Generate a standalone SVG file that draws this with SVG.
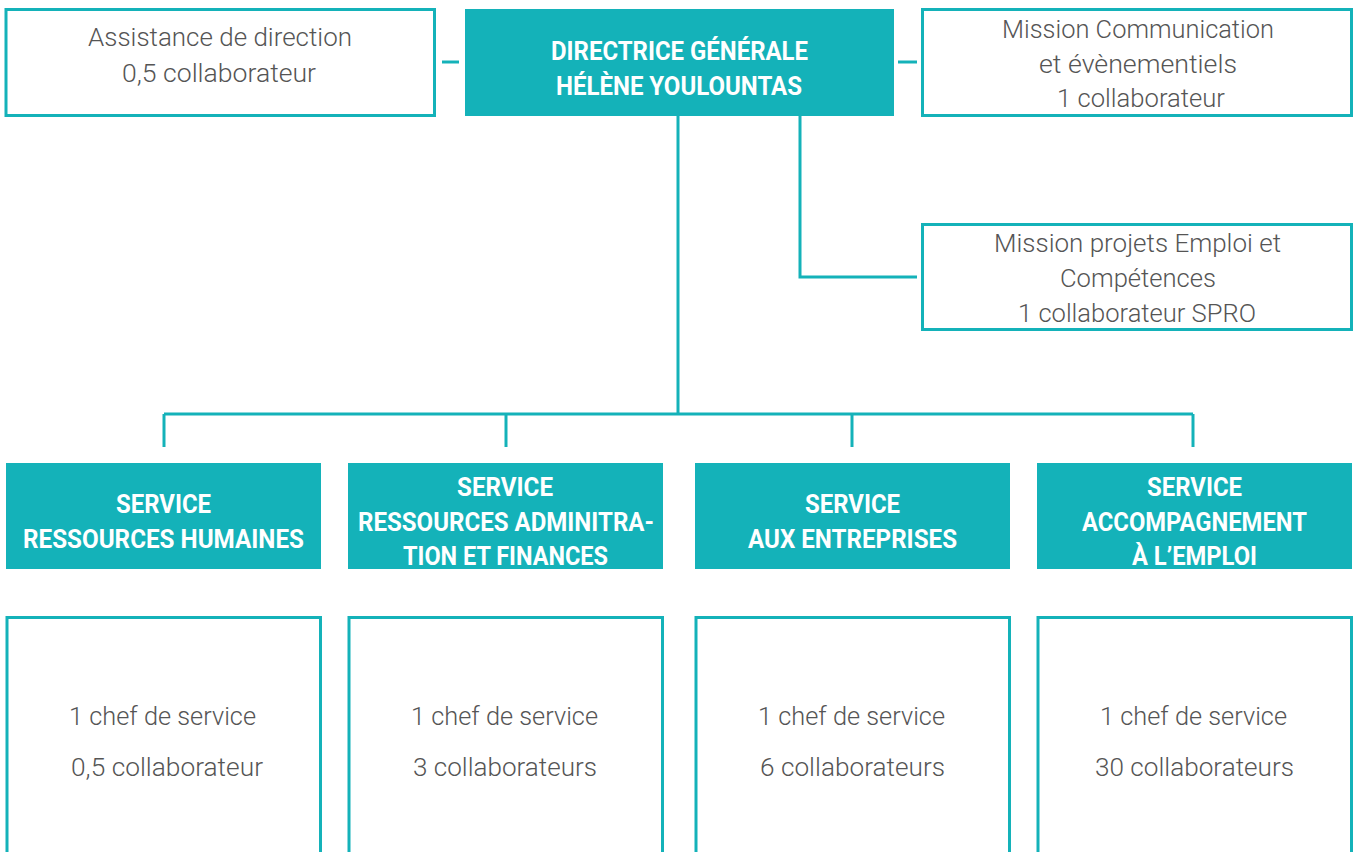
<svg xmlns="http://www.w3.org/2000/svg" width="1356" height="852" viewBox="0 0 1356 852">
<style>
.box{fill:#fff;stroke:#14b2b9;stroke-width:3}
.fill{fill:#14b2b9}
.lt{font-family:Roboto,"Liberation Sans",sans-serif;font-weight:300;font-size:26.5px;fill:#555;text-anchor:middle}
.bd{font-family:Roboto,"Liberation Sans",sans-serif;font-weight:700;font-size:25px;fill:#fff;text-anchor:middle}
.ln{fill:none;stroke:#14b2b9;stroke-width:3}
</style>
<rect width="1356" height="852" fill="#fff"/>
<g id="connectors">
<line class="ln" x1="442" y1="62" x2="459" y2="62"/>
<line class="ln" x1="898" y1="62" x2="917" y2="62"/>
<polyline class="ln" points="800,116 800,277 917,277"/>
<line class="ln" x1="678" y1="116" x2="678" y2="414"/>
<line class="ln" x1="164" y1="414" x2="1193" y2="414"/>
<line class="ln" x1="164" y1="414" x2="164" y2="447"/>
<line class="ln" x1="506" y1="414" x2="506" y2="447"/>
<line class="ln" x1="852" y1="414" x2="852" y2="447"/>
<line class="ln" x1="1193" y1="414" x2="1193" y2="447"/>
</g>
<g id="assistance">
<rect class="box" x="6" y="9.5" width="428.5" height="106"/>
<text class="lt" x="220" y="46" textLength="264" lengthAdjust="spacingAndGlyphs">Assistance de direction</text>
<text class="lt" x="219" y="82" textLength="194" lengthAdjust="spacingAndGlyphs">0,5 collaborateur</text>
</g>
<g id="directrice">
<rect class="fill" x="465" y="9" width="429" height="107"/>
<text class="bd" x="679.5" y="60" textLength="257" lengthAdjust="spacingAndGlyphs">DIRECTRICE GÉNÉRALE</text>
<text class="bd" x="679" y="95" textLength="246" lengthAdjust="spacingAndGlyphs">HÉLÈNE YOULOUNTAS</text>
</g>
<g id="communication">
<rect class="box" x="922.5" y="9.5" width="429" height="106"/>
<text class="lt" x="1138" y="38" textLength="272" lengthAdjust="spacingAndGlyphs">Mission Communication</text>
<text class="lt" x="1138" y="73" textLength="198" lengthAdjust="spacingAndGlyphs">et évènementiels</text>
<text class="lt" x="1141" y="107" textLength="168" lengthAdjust="spacingAndGlyphs">1 collaborateur</text>
</g>
<g id="projets">
<rect class="box" x="922.5" y="224.5" width="429" height="105"/>
<text class="lt" x="1137.5" y="252" textLength="287" lengthAdjust="spacingAndGlyphs">Mission projets Emploi et</text>
<text class="lt" x="1138" y="287" textLength="156" lengthAdjust="spacingAndGlyphs">Compétences</text>
<text class="lt" x="1137" y="322" textLength="238" lengthAdjust="spacingAndGlyphs">1 collaborateur SPRO</text>
</g>
<g id="service-rh">
<rect class="fill" x="6" y="463" width="315" height="106"/>
<text class="bd" x="163.5" y="513" textLength="95" lengthAdjust="spacingAndGlyphs">SERVICE</text>
<text class="bd" x="163.5" y="548" textLength="281" lengthAdjust="spacingAndGlyphs">RESSOURCES HUMAINES</text>
</g>
<g id="service-raf">
<rect class="fill" x="348" y="463" width="315" height="106"/>
<text class="bd" x="505" y="496" textLength="96" lengthAdjust="spacingAndGlyphs">SERVICE</text>
<text class="bd" x="506" y="531" textLength="296" lengthAdjust="spacingAndGlyphs">RESSOURCES ADMINITRA-</text>
<text class="bd" x="505.5" y="565" textLength="205" lengthAdjust="spacingAndGlyphs">TION ET FINANCES</text>
</g>
<g id="service-entreprises">
<rect class="fill" x="695" y="463" width="315" height="106"/>
<text class="bd" x="852.5" y="513" textLength="95" lengthAdjust="spacingAndGlyphs">SERVICE</text>
<text class="bd" x="852.5" y="548" textLength="209" lengthAdjust="spacingAndGlyphs">AUX ENTREPRISES</text>
</g>
<g id="service-emploi">
<rect class="fill" x="1037" y="463" width="315" height="106"/>
<text class="bd" x="1194.5" y="496" textLength="95" lengthAdjust="spacingAndGlyphs">SERVICE</text>
<text class="bd" x="1194.5" y="531" textLength="225" lengthAdjust="spacingAndGlyphs">ACCOMPAGNEMENT</text>
<text class="bd" x="1194.5" y="565" textLength="125" lengthAdjust="spacingAndGlyphs">À L’EMPLOI</text>
</g>
<g id="effectif-rh">
<rect class="box" x="7" y="617.5" width="313.5" height="250"/>
<text class="lt" x="162.5" y="725" textLength="187" lengthAdjust="spacingAndGlyphs">1 chef de service</text>
<text class="lt" x="167" y="776" textLength="192" lengthAdjust="spacingAndGlyphs">0,5 collaborateur</text>
</g>
<g id="effectif-raf">
<rect class="box" x="349" y="617.5" width="313.5" height="250"/>
<text class="lt" x="504.5" y="725" textLength="187" lengthAdjust="spacingAndGlyphs">1 chef de service</text>
<text class="lt" x="505" y="776" textLength="184" lengthAdjust="spacingAndGlyphs">3 collaborateurs</text>
</g>
<g id="effectif-entreprises">
<rect class="box" x="696" y="617.5" width="313.5" height="250"/>
<text class="lt" x="851.5" y="725" textLength="187" lengthAdjust="spacingAndGlyphs">1 chef de service</text>
<text class="lt" x="852.5" y="776" textLength="185" lengthAdjust="spacingAndGlyphs">6 collaborateurs</text>
</g>
<g id="effectif-emploi">
<rect class="box" x="1038" y="617.5" width="313.5" height="250"/>
<text class="lt" x="1193.5" y="725" textLength="187" lengthAdjust="spacingAndGlyphs">1 chef de service</text>
<text class="lt" x="1194.5" y="776" textLength="199" lengthAdjust="spacingAndGlyphs">30 collaborateurs</text>
</g>
</svg>
